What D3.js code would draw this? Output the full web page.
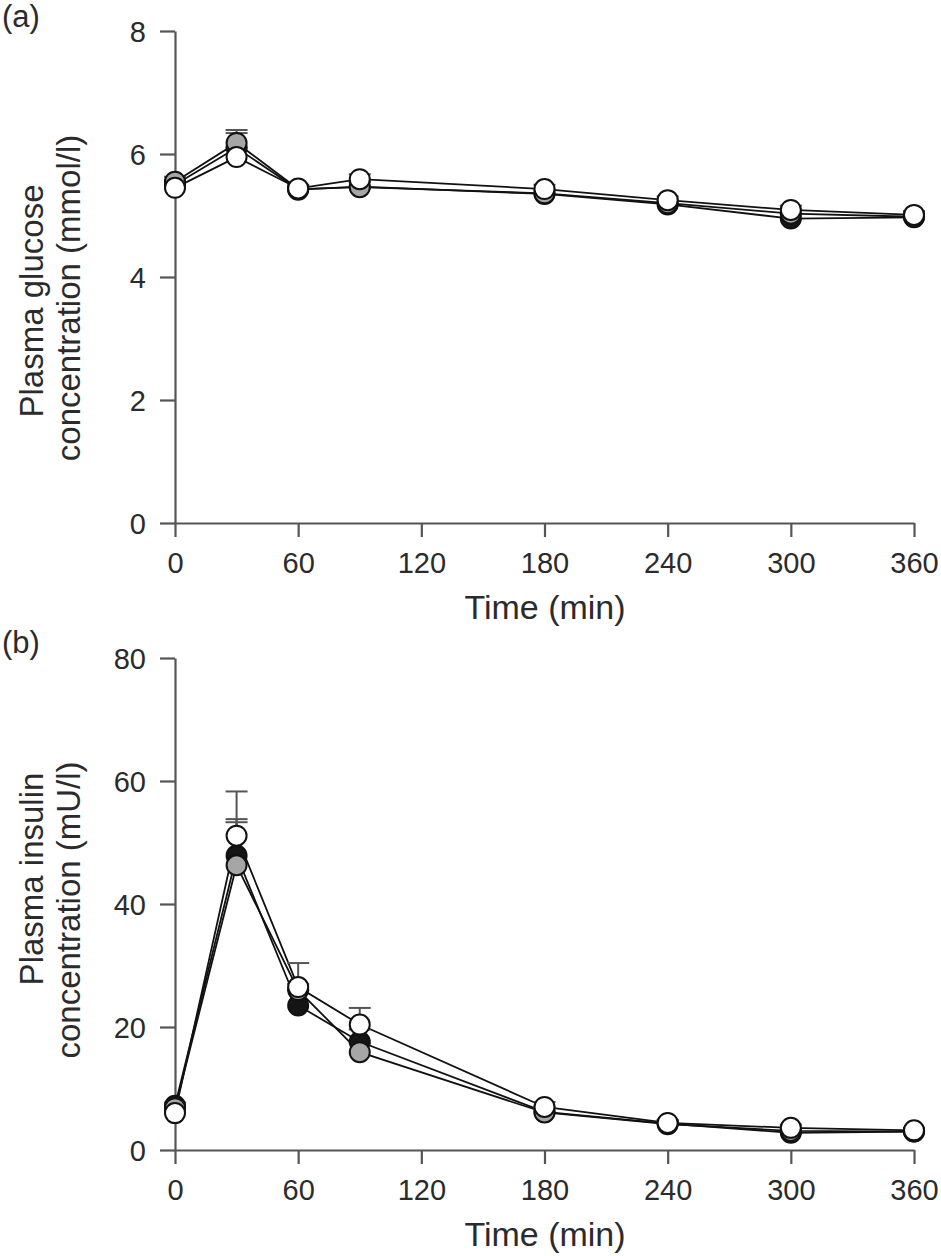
<!DOCTYPE html>
<html>
<head>
<meta charset="utf-8">
<script src="https://cdn.jsdelivr.net/npm/d3@7"></script>
<style>
  html, body { margin: 0; padding: 0; background: #fff; }
  svg { display: block; font-family: "Liberation Sans", Arial, sans-serif; }
</style>
</head>
<body>
<svg id="chart" width="941" height="1256"></svg>
<script>
// ---- Data ----
const times = [0, 30, 60, 90, 180, 240, 300, 360];
const xTicks = [0, 60, 120, 180, 240, 300, 360];

const glucoseTicks = [0, 2, 4, 6, 8];
const glucoseBlack = [5.50, 6.10, 5.42, 5.47, 5.35, 5.18, 4.95, 4.97];
const glucoseGray  = [5.55, 6.18, 5.43, 5.46, 5.36, 5.20, 5.03, 4.98];
const glucoseWhite = [5.45, 5.95, 5.44, 5.59, 5.43, 5.25, 5.09, 5.01];
const glucoseBlackErr = [0.08, 0.24, 0.06, 0.08, 0.07, 0.06, 0.07, 0.06];
const glucoseGrayErr  = [0.08, 0.21, 0.06, 0.08, 0.07, 0.06, 0.07, 0.06];
const glucoseWhiteErr = [0.08, 0.15, 0.06, 0.08, 0.07, 0.06, 0.07, 0.06];

const insulinTicks = [0, 20, 40, 60, 80];
const insulinBlack = [7.2, 47.9, 23.5, 17.6, 6.2, 4.3, 2.8, 3.0];
const insulinGray  = [6.8, 46.3, 26.0, 15.9, 6.1, 4.2, 3.1, 3.0];
const insulinWhite = [6.0, 51.1, 26.5, 20.4, 7.0, 4.4, 3.6, 3.2];
const insulinBlackErr = [0.5, 5.9, 2.5, 2.0, 0.8, 0.5, 0.5, 0.4];
const insulinGrayErr  = [0.5, 7.0, 1.0, 1.5, 0.8, 0.5, 0.5, 0.4];
const insulinWhiteErr = [0.5, 7.2, 3.9, 2.7, 0.8, 0.5, 0.5, 0.4];

const seriesFill = ["#151515", "#a6a6a6", "#ffffff"];

// ---- Drawing ----
const svg = d3.select("#chart");
const axisColor = "#555";
const textColor = "#2b2b2b";

function panel(cfg) {
  const x = d3.scaleLinear().domain([0, 360]).range([175, 914]);
  const y = d3.scaleLinear().domain([0, cfg.yMax]).range([cfg.y0, cfg.yTop]);
  const g = svg.append("g");

  const xAxis = g.append("g")
    .attr("transform", `translate(0,${cfg.y0})`)
    .call(d3.axisBottom(x).tickValues(xTicks).tickSize(14).tickSizeOuter(0).tickPadding(0));
  const yAxis = g.append("g")
    .attr("transform", `translate(175,0)`)
    .call(d3.axisLeft(y).tickValues(cfg.yTicks).tickSize(15).tickSizeOuter(0).tickPadding(14));

  [xAxis, yAxis].forEach(a => {
    a.select(".domain").attr("stroke", axisColor).attr("stroke-width", 2.2);
    a.selectAll(".tick line").attr("stroke", axisColor).attr("stroke-width", 2.2);
    a.selectAll(".tick text").attr("fill", textColor).style("font-size", "29px")
      .style("font-family", '"Liberation Sans", Arial, sans-serif');
  });
  xAxis.selectAll(".tick text").attr("dy", null).attr("y", 50);
  yAxis.selectAll(".tick text").attr("dy", "0.36em");

  // axis titles
  g.append("text").attr("x", 545).attr("y", cfg.y0 + 96)
    .attr("text-anchor", "middle").attr("fill", textColor)
    .style("font-size", "34px").text("Time (min)");
  cfg.yTitle.forEach((t, i) => {
    g.append("text")
      .attr("transform", `translate(${cfg.titleX[i]},${cfg.titleC[i]}) rotate(-90)`)
      .attr("text-anchor", "middle").attr("fill", textColor)
      .style("font-size", "33px").text(t);
  });
  // panel label
  g.append("text").attr("x", 2).attr("y", cfg.labelY)
    .attr("fill", textColor).style("font-size", "31px").text(cfg.label);

  const line = d3.line().x((d, i) => x(times[i])).y(d => y(d));
  cfg.series.forEach((s) => {
    g.append("path").datum(s).attr("d", line)
      .attr("fill", "none").attr("stroke", "#111").attr("stroke-width", 1.8);
  });
  cfg.series.forEach((s, k) => {
    const err = cfg.errs[k];
    s.forEach((v, i) => {
      const cx = x(times[i]);
      const top = y(v + err[i]);
      g.append("line").attr("x1", cx).attr("x2", cx).attr("y1", y(v)).attr("y2", top)
        .attr("stroke", axisColor).attr("stroke-width", 2);
      g.append("line").attr("x1", cx - 11).attr("x2", cx + 11).attr("y1", top).attr("y2", top)
        .attr("stroke", axisColor).attr("stroke-width", 2);
    });
  });
  cfg.series.forEach((s, k) => {
    g.selectAll(null).data(s).enter().append("circle")
      .attr("cx", (d, i) => x(times[i])).attr("cy", d => y(d)).attr("r", 10)
      .attr("fill", seriesFill[k]).attr("stroke", "#111").attr("stroke-width", 2);
  });
}

panel({
  yMax: 8, y0: 523, yTop: 31, yTicks: glucoseTicks,
  series: [glucoseBlack, glucoseGray, glucoseWhite],
  errs: [glucoseBlackErr, glucoseGrayErr, glucoseWhiteErr],
  yTitle: ["Plasma glucose", "concentration (mmol/l)"],
  titleX: [43, 80], titleC: [301, 298],
  label: "(a)", labelY: 27
});
panel({
  yMax: 80, y0: 1150, yTop: 658, yTicks: insulinTicks,
  series: [insulinBlack, insulinGray, insulinWhite],
  errs: [insulinBlackErr, insulinGrayErr, insulinWhiteErr],
  yTitle: ["Plasma insulin", "concentration (mU/l)"],
  titleX: [43, 80], titleC: [879, 910],
  label: "(b)", labelY: 653
});
</script>
</body>
</html>
